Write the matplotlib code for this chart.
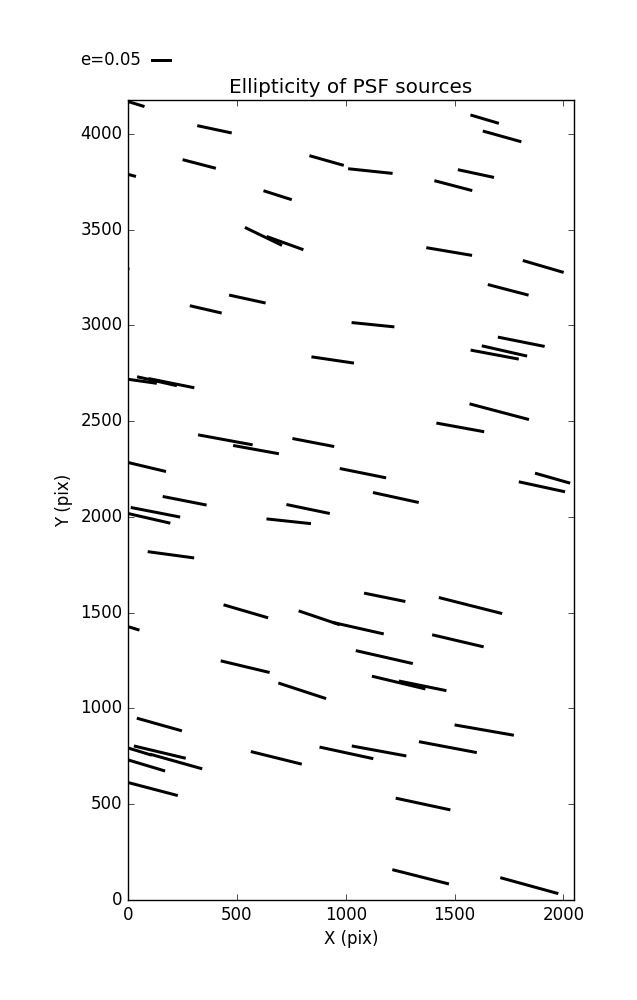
import matplotlib
matplotlib.use('Agg')
import matplotlib.pyplot as plt
import numpy as np

# PSF source positions (pix), ellipticity and position angle (deg)
x_pix = [0, -40, -70, -23, 397, 327, 687, 622, 721, 912, 1113, 1638, 1718, 1598,
         1494, 1475, 1907, 1746, 357, 548, 940, 1125, 1806, 1729, 1684, 1705, 1526,
         64, 133, 199, 447, 588, 851, 1079, 88, 1950, 1901, 1230, 260, 126, 98,
         827, 738, 197, 1179, 1573, 541, 878, 1057, 1515, 1177, 538, 800, 1243,
         1353, 144, 1636, 1469, 1153, 1003, 681, 146, 5, 221, 86, 115, 1355,
         1344, 1843]
y_pix = [4168, 3800, 3315, 1435, 4023, 3842, 3679, 3464, 3429, 3860, 3805, 4076,
         3986, 3792, 3729, 3385, 3307, 3185, 3083, 3137, 2819, 3003, 2914, 2866,
         2847, 2549, 2467, 2708, 2708, 2698, 2402, 2351, 2388, 2228, 2260, 2202,
         2157, 2101, 2084, 2024, 1992, 2041, 1977, 1802, 1580, 1537, 1507, 1473,
         1419, 1353, 1268, 1218, 1092, 1135, 1118, 916, 887, 798, 778, 768, 742,
         772, 792, 723, 702, 579, 501, 121, 75]
ellip = [0.080, 0.080, 0.080, 0.080, 0.082, 0.080, 0.069, 0.096, 0.091, 0.083,
         0.104, 0.069, 0.093, 0.086, 0.091, 0.108, 0.099, 0.098, 0.076, 0.087,
         0.100, 0.100, 0.111, 0.108, 0.114, 0.143, 0.113, 0.070, 0.095, 0.109,
         0.129, 0.108, 0.099, 0.110, 0.090, 0.085, 0.110, 0.109, 0.104, 0.117,
         0.100, 0.103, 0.104, 0.109, 0.098, 0.152, 0.108, 0.101, 0.122, 0.123,
         0.136, 0.117, 0.117, 0.128, 0.113, 0.109, 0.140, 0.137, 0.129, 0.128,
         0.122, 0.124, 0.110, 0.126, 0.089, 0.119, 0.130, 0.136, 0.140]
theta = [-17, -15, -15, -17, -12.0, -14.6, -17.6, -25.8, -19.8, -15.8, -6.0,
         -16.5, -15.6, -12.1, -14.7, -9.6, -16.3, -14.6, -13.0, -12.3, -8.4, -5.8,
         -11.3, -12.8, -10.6, -14.8, -10.3, -8.0, -12.7, -11.4, -10.4, -10.3,
         -10.9, -11.4, -13.4, -15.9, -12.2, -12.3, -11.1, -11.0, -12.9, -11.7,
         -6.1, -7.7, -11.5, -14.2, -16.3, -18.7, -12.7, -13.2, -12.8, -13.4,
         -18.1, -13.4, -11.5, -15.7, -9.9, -10.7, -10.4, -12.2, -13.9, -13.4,
         -17, -15.7, -16.7, -14.7, -12.1, -14.2, -15.4]

plt.style.use('classic')
plt.rcParams['figure.facecolor'] = 'white'

ellip = np.array(ellip)
th = np.radians(theta)
u = ellip * np.cos(th)
v = ellip * np.sin(th)

fig = plt.figure(figsize=(6.37, 10), dpi=100)
ax = fig.add_axes([0.201, 0.1, 0.70, 0.8])
q = ax.quiver(x_pix, y_pix, u, v, pivot='middle', headwidth=0, headlength=0,
              headaxislength=0, scale_units='inches', scale=0.05 / 0.215,
              units='inches', width=0.03, color='k')
# key: tail of the reference bar sits at X for labelpos='W'
plt.quiverkey(q, 0.237, 0.94, 0.05, 'e=0.05', labelpos='W',
              coordinates='figure', fontproperties={'size': 12})

ax.set_xlim(0, 2048)
ax.set_ylim(0, 4176)
ax.set_xticks([0, 500, 1000, 1500, 2000])
ax.set_yticks(np.arange(0, 4001, 500))
ax.set_xlabel('X (pix)')
ax.set_ylabel('Y (pix)')
ax.set_title('Ellipticity of PSF sources')

fig.savefig('out.png', dpi=100, facecolor='white')
